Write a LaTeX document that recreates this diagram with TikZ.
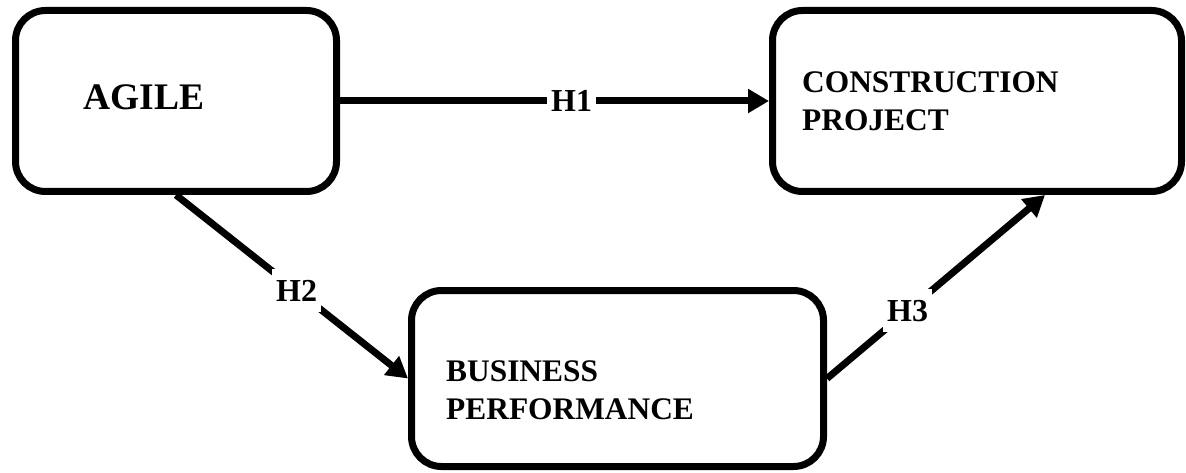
\documentclass[tikz,border=0pt]{standalone}
\usepackage{fontspec}
\setmainfont{Liberation Serif}
\usetikzlibrary{positioning}
\usetikzlibrary{arrows.meta}
\tikzset{x=1pt, y=1pt, % one unit per pixel of the layout
      block/.style={ % Rounded boxes of the model
      draw, line width=7pt, rounded corners=30pt, fill=white},
      blocktext/.style={ % Bold names inside the boxes
      inner sep=0pt, align=left,
      font=\fontsize{31.4pt}{38pt}\selectfont\bfseries},
      hyp/.style={ % Hypothesis labels cutting the arrows
      fill=white, inner xsep=4pt, inner ysep=11pt,
      font=\fontsize{32pt}{38pt}\selectfont\bfseries},
      every edge/.style={ % Thick arrows between the boxes
      draw, line width=7pt,
      -{Triangle[length=21pt,width=23pt]}}}
\begin{document}
\begin{tikzpicture}
      \path[use as bounding box, fill=white] (0,0) rectangle (1186,472);
      \node[block, minimum width=321pt, minimum height=181pt] (agile) at (176,371) {};
      \node[block, minimum width=409pt, minimum height=181pt] (construction) at (977,371) {};
      \node[block, minimum width=412pt, minimum height=176pt] (business) at (617.5,93.5) {};
      \node[blocktext, font=\fontsize{37.5pt}{40pt}\selectfont\bfseries, right=71pt of agile.west, yshift=3.5pt] (agiletext) {AGILE};
      \node[blocktext, right=33pt of construction.west] (constructiontext) {CONSTRUCTION\\PROJECT};
      \node[blocktext, right=38pt of business.west, yshift=-11.5pt] (businesstext) {BUSINESS\\PERFORMANCE};
      \coordinate (constructionin) at ([xshift=68pt]construction.south);
      \draw (agile.east) edge node[hyp, pos=0.54] (h1) {H1} (construction.west);
      \draw (agile.south) edge node[hyp, pos=0.52] (h2) {H2} (business.west);
      \draw (business.east) edge node[hyp, pos=0.37] (h3) {H3} (constructionin);
\end{tikzpicture}
\end{document}
